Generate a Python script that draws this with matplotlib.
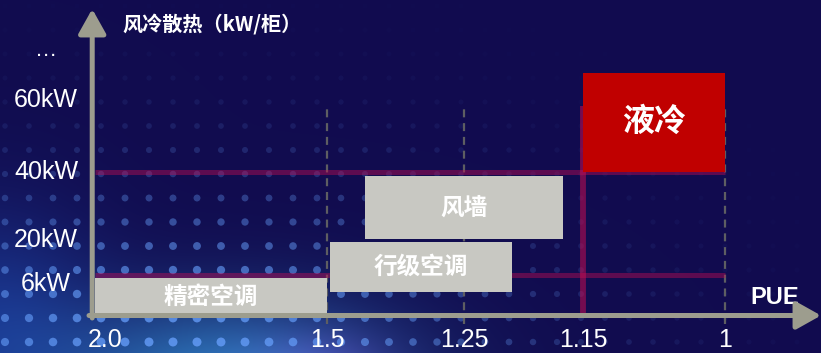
import numpy as np
import matplotlib
matplotlib.use('Agg')
import matplotlib.pyplot as plt
from matplotlib.transforms import blended_transform_factory, ScaledTranslation

# data
pue_ticks = [2.0, 1.5, 1.25, 1.15, 1.0]
pue_labels = ['2.0', '1.5', '1.25', '1.15', '1']
kw_ticks = [6, 20, 40, 60, 80]
kw_labels = ['6kW', '20kW', '40kW', '60kW', '…']

box_names = ['精密空调', '行级空调', '风墙', '液冷']
box_pue_start = [2.0, 1.495, 1.43, 1.15]
box_pue_end = [1.5, 1.21, 1.167, 1.0]
box_kw_low = [0, 3.5, 20.3, 40]
box_kw_high = [5.5, 19.2, 38.8, 71]

red_levels = [6, 40]
red_pue = 1.15
dashed_pue = [1.5, 1.25, 1.0]

W, H = 821, 353

# nonlinear axes of the sketch: where each tick sits on the canvas
X_PUE = [1.0, 1.15, 1.25, 1.5, 2.0]
X_PX = [725, 583, 464, 327, 95]
Y_KW = [0, 6, 20, 40, 60, 80]
Y_PX = [37.5, 78, 113, 181, 253, 303]


def piecewise(v, xp, fp):
    v = np.asarray(v, dtype=float)
    out = np.interp(v, xp, fp)
    lo_slope = (fp[1] - fp[0]) / (xp[1] - xp[0])
    hi_slope = (fp[-1] - fp[-2]) / (xp[-1] - xp[-2])
    out = np.where(v < xp[0], fp[0] + (v - xp[0]) * lo_slope, out)
    out = np.where(v > xp[-1], fp[-1] + (v - xp[-1]) * hi_slope, out)
    return out


def fwd_x(v):
    return piecewise(v, X_PUE, X_PX)


def inv_x(p):
    return piecewise(p, X_PX[::-1], X_PUE[::-1])


def fwd_y(v):
    return piecewise(v, Y_KW, Y_PX)


def inv_y(p):
    return piecewise(p, Y_PX, Y_KW)


fig = plt.figure(figsize=(W / 100, H / 100), dpi=100)

# background: navy with a blue glow and a dot grid in the lower left
bg = fig.add_axes([0, 0, 1, 1], zorder=0)
yy, xx = np.mgrid[0:H, 0:W]
base = np.array([0.067, 0.047, 0.31])
img = np.ones((H, W, 3)) * base
g1 = np.exp(-(((xx - 230) / 170.0) ** 2 + ((yy - 385) / 85.0) ** 2))
g2 = np.exp(-(((xx + 10) / 110.0) ** 2 + ((yy - 330) / 120.0) ** 2))
g3 = np.exp(-(((xx - 320) / 70.0) ** 2 + ((yy - 365) / 35.0) ** 2))
img += g1[..., None] * (np.array([0.2, 0.55, 0.82]) - base) * 0.85
img += g2[..., None] * (np.array([0.12, 0.3, 0.7]) - base) * 0.6
img += g3[..., None] * np.array([0.25, 0.0, 0.2]) * 0.5
bg.imshow(np.clip(img, 0, 1), extent=(0, W, H, 0), aspect='auto')
gx, gy = np.meshgrid(np.arange(5, W, 24), np.arange(6, H, 24))
inten = np.exp(-(((gx - 180) / 330.0) ** 2 + ((gy - 353) / 170.0) ** 2))
dot_col = np.zeros((gx.size, 4))
dot_col[:, :3] = (0.4, 0.62, 0.98)
dot_col[:, 3] = np.clip(0.8 * inten.ravel(), 0, 1)
bg.scatter(gx.ravel(), gy.ravel(), s=12 + 30 * inten.ravel(), c=dot_col, linewidths=0)
bg.set_xlim(0, W)
bg.set_ylim(H, 0)
bg.set_axis_off()

ax = fig.add_axes([0, 0, 1, 1], zorder=1)
ax.patch.set_alpha(0)
ax.set_xscale('function', functions=(fwd_x, inv_x))
ax.set_yscale('function', functions=(fwd_y, inv_y))
# the forward map falls with PUE, so the limits go in this order
ax.set_xlim(float(inv_x(W)), float(inv_x(0)))
ax.set_ylim(float(inv_y(0)), float(inv_y(H)))
ax.set_axis_off()

axis_col = '#9d9d8e'
red_line = (0.78, 0.05, 0.32)
cjk = ['Noto Sans CJK SC', 'DejaVu Sans']
latin = ['Liberation Sans', 'DejaVu Sans']

# dashed guides
for p in dashed_pue:
    ax.plot([p, p], [-1.2, 58.3], color='#5e5e62', lw=1.6,
            linestyle=(0, (3.6, 2.6)), zorder=2)

# red guide lines
for lv in red_levels:
    ax.plot([2.0, 1.0], [lv, lv], color=red_line, alpha=0.42, lw=3.6,
            solid_capstyle='butt', zorder=2)
ax.plot([red_pue, red_pue], [0, 58.3], color=red_line, alpha=0.55, lw=4.2,
        solid_capstyle='butt', zorder=2)

# boxes
for i, name in enumerate(box_names):
    is_red = name == '液冷'
    x0, x1 = box_pue_start[i], box_pue_end[i]
    ax.fill_between([x0, x1], box_kw_low[i], box_kw_high[i],
                    color='#c00000' if is_red else '#c8c8c2',
                    linewidth=0, zorder=3)
    cx = float(inv_x((fwd_x(x0) + fwd_x(x1)) / 2))
    cy = float(inv_y((fwd_y(box_kw_low[i]) + fwd_y(box_kw_high[i])) / 2))
    ax.text(cx, cy, name, color='white', fontsize=23 if is_red else 17,
            fontweight='bold', family=cjk, ha='center', va='center', zorder=4)

# axes with arrow heads
ax.annotate('', xy=(float(inv_x(W)), 0), xytext=(float(inv_x(89)), 0),
            arrowprops=dict(arrowstyle='-|>,head_length=0.75,head_width=0.42',
                            color=axis_col, lw=3.6, mutation_scale=20,
                            shrinkA=0, shrinkB=0), zorder=5)
ax.annotate('', xy=(2.006, float(inv_y(H - 9))), xytext=(2.006, float(inv_y(35))),
            arrowprops=dict(arrowstyle='-|>,head_length=0.75,head_width=0.42',
                            color=axis_col, lw=3.6, mutation_scale=20,
                            shrinkA=0, shrinkB=0), zorder=5)

# tick labels
xlab_tr = blended_transform_factory(ax.transData, ax.transAxes)
for p, lab in zip(pue_ticks, pue_labels):
    tr = xlab_tr
    if lab == '2.0':
        tr = xlab_tr + ScaledTranslation(10 / 100, 0, fig.dpi_scale_trans)
    ax.text(p, 13 / H, lab, transform=tr, color='white', fontsize=18,
            family=latin, ha='center', va='center')

ylab_tr = blended_transform_factory(ax.transAxes, ax.transData)
for v, lab in zip(kw_ticks, kw_labels):
    tr = ylab_tr
    if lab == '6kW':
        tr = ylab_tr + ScaledTranslation(0, -9 / 100, fig.dpi_scale_trans)
    ax.text(46 / W, v, lab, transform=tr, color='white',
            fontsize=16 if lab == '…' else 18, family=latin,
            ha='center', va='center')

ax.text(122 / W, 1 - 24 / H, '风冷散热（kW/柜）', transform=ax.transAxes,
        color='white', fontsize=14.5, fontweight='bold', family=cjk,
        ha='left', va='center')
ax.text(775 / W, 1 - 298 / H, 'PUE', transform=ax.transAxes, color='white',
        fontsize=17, fontweight='bold', family=latin, ha='center', va='center')

fig.savefig('out.png', dpi=100)
